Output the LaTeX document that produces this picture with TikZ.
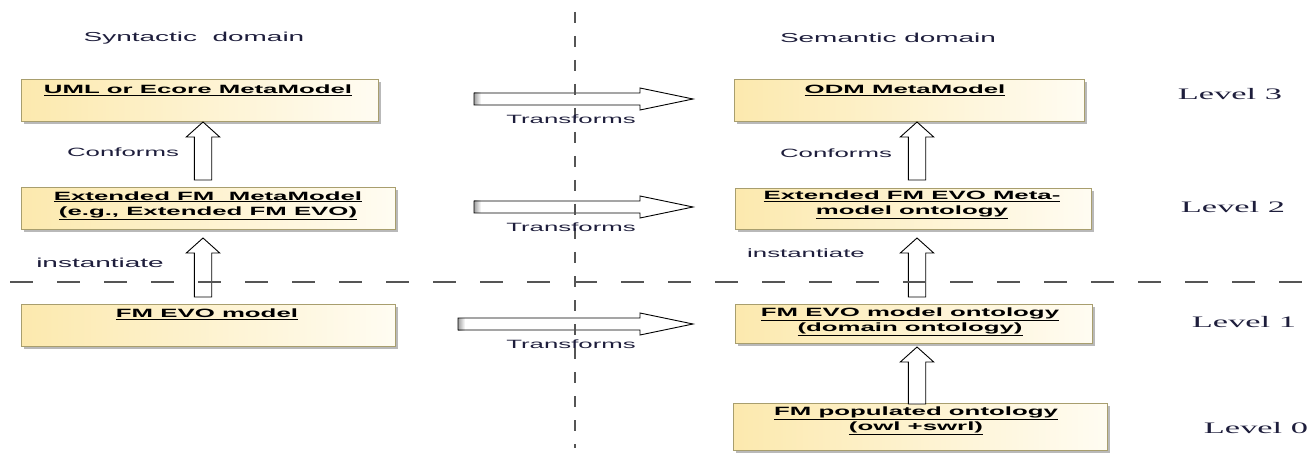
\documentclass[tikz,border=0pt]{standalone}
\usepackage{fontspec}
\usepackage{graphicx}
\setmainfont{Liberation Serif}
\setsansfont{Liberation Sans}
\usetikzlibrary{calc,shadows}
\definecolor{boxL}{HTML}{FCE9AE}
\definecolor{boxR}{HTML}{FFFCF2}
\definecolor{boxedge}{HTML}{A89E6E}
\definecolor{lbl}{HTML}{1E1E3C}
\definecolor{dashc}{HTML}{555555}
\newcommand{\sx}[1]{\scalebox{2.15}[1]{#1}}
\newcommand{\ux}[1]{\scalebox{2.15}[1]{\underline{#1}}}
\newcommand{\blkup}[2]{%
  \draw[blockarrow] let \p1=(#1), \p2=(#2) in
   (\x1-8.7pt,\y2) -- (\x1-8.7pt,\y1-15pt) -- (\x1-16.7pt,\y1-15pt) -- (\x1,\y1)
   -- (\x1+16.7pt,\y1-15pt) -- (\x1+8.7pt,\y1-15pt) -- (\x1+8.7pt,\y2) -- cycle;}
\newcommand{\blkright}[2]{%
  \fill[white] let \p1=(#1), \p2=(#2) in
   (\x1,\y1+6pt) -- (\x2-53pt,\y1+6pt) -- (\x2-53pt,\y1+11pt) -- (\x2,\y1)
   -- (\x2-53pt,\y1-11pt) -- (\x2-53pt,\y1-6pt) -- (\x1,\y1-6pt) -- cycle;
  \shade[left color=gray!75,right color=white] let \p1=(#1) in
   (\x1,\y1+6pt) rectangle (\x1+7pt,\y1-6pt);
  \draw[blockarrow,fill=none] let \p1=(#1), \p2=(#2) in
   (\x1,\y1+6pt) -- (\x2-53pt,\y1+6pt) -- (\x2-53pt,\y1+11pt) -- (\x2,\y1)
   -- (\x2-53pt,\y1-11pt) -- (\x2-53pt,\y1-6pt) -- (\x1,\y1-6pt) -- cycle;}
\tikzset{
  umlbox/.style={draw=boxedge, line width=0.9pt, left color=boxL, right color=boxR,
    drop shadow={shadow xshift=3pt, shadow yshift=-3pt, opacity=0.55, fill=gray},
    inner sep=0pt, anchor=north west},
  btxt/.style={font=\sffamily\bfseries\fontsize{12}{15}\selectfont, text=black,
    align=center, inner sep=0pt},
  ltxt/.style={font=\sffamily\fontsize{12}{14}\selectfont, text=lbl, inner sep=0pt},
  dtxt/.style={font=\sffamily\fontsize{13}{15}\selectfont, text=lbl, inner sep=0pt},
  lvtxt/.style={font=\rmfamily\fontsize{16}{18}\selectfont, text=lbl, inner sep=0pt},
  blockarrow/.style={draw=black, line width=0.9pt, fill=white, line join=miter},
  sepline/.style={draw=dashc, line width=1.5pt}
}
\begin{document}
\begin{tikzpicture}[x=1pt,y=-1pt]
\useasboundingbox (0,0) rectangle (1316,454);
% boxes
\node[umlbox, minimum width=357pt, minimum height=42pt] (bA) at (21,79) {};
\node[umlbox, minimum width=374pt, minimum height=42pt] (bB) at (21,187) {};
\node[umlbox, minimum width=374pt, minimum height=42pt] (bC) at (21,304) {};
\node[umlbox, minimum width=350pt, minimum height=42pt] (bD) at (734,79) {};
\node[umlbox, minimum width=356pt, minimum height=41pt] (bE) at (735,188) {};
\node[umlbox, minimum width=357pt, minimum height=39pt] (bF) at (735,304) {};
\node[umlbox, minimum width=374pt, minimum height=47pt] (bG) at (733,403) {};
% box texts
\node[btxt] (tA) at (198,90) {\ux{UML or Ecore MetaModel}};
\node[btxt] (tB) at (208,205.5) {\ux{Extended FM\ \ MetaModel}\\\ux{(e.g., Extended FM EVO)}};
\node[btxt] (tC) at (207,314) {\ux{FM EVO model}};
\node[btxt] (tD) at (905,90) {\ux{ODM MetaModel}};
\node[btxt] (tE) at (912,205) {\ux{Extended FM EVO Meta-}\\\ux{model ontology}};
\node[btxt] (tF) at (910,321.5) {\ux{FM EVO model ontology}\\\ux{(domain ontology)}};
\node[btxt] (tG) at (916,420.5) {\ux{FM populated ontology}\\\ux{(owl +swrl)}};
% vertical arrows
\coordinate (a1t) at (203,122); \coordinate (a1b) at (203,180);
\coordinate (a2t) at (203,238); \coordinate (a2b) at (203,297);
\coordinate (a3t) at (917,122); \coordinate (a3b) at (917,180);
\coordinate (a4t) at (917,238); \coordinate (a4b) at (917,297);
\coordinate (a5t) at (917,347); \coordinate (a5b) at (917,404);
\blkup{a1t}{a1b}
\blkup{a2t}{a2b}
\blkup{a3t}{a3b}
\blkup{a4t}{a4b}
\blkup{a5t}{a5b}
% horizontal arrows
\coordinate (h1s) at (474,99);  \coordinate (h1e) at (693,99);
\coordinate (h2s) at (474,207); \coordinate (h2e) at (693,207);
\coordinate (h3s) at (458,324); \coordinate (h3e) at (693,324);
\blkright{h1s}{h1e}
\blkright{h2s}{h2e}
\blkright{h3s}{h3e}
% separators
\coordinate (vsT) at (575,12); \coordinate (vsB) at (575,448);
\coordinate (hsL) at (10,282); \coordinate (hsR) at (1316,282);
\draw[sepline, dash pattern=on 11pt off 13pt] (vsT) -- (vsB);
\draw[sepline, dash pattern=on 23pt off 24pt] (hsL) -- (hsR);
% labels
\node[dtxt] (lSyn) at (194,38) {\sx{Syntactic\ \ domain}};
\node[dtxt] (lSem) at (888,38) {\sx{Semantic domain}};
\node[ltxt] (lConfL) at (123,152) {\sx{Conforms}};
\node[ltxt] (lConfR) at (836,153) {\sx{Conforms}};
\node[ltxt, font=\sffamily\fontsize{13}{15}\selectfont] (lInstL) at (100,263) {\sx{instantiate}};
\node[ltxt] (lInstR) at (806,253) {\sx{instantiate}};
\node[ltxt] (lTr1) at (571,119) {\sx{Transforms}};
\node[ltxt] (lTr2) at (571,227) {\sx{Transforms}};
\node[ltxt] (lTr3) at (571,344) {\sx{Transforms}};
\node[lvtxt] (lv3) at (1230,94) {\sx{Level 3}};
\node[lvtxt] (lv2) at (1233,207) {\sx{Level 2}};
\node[lvtxt] (lv1) at (1244,322) {\sx{Level 1}};
\node[lvtxt] (lv0) at (1256,428) {\sx{Level 0}};
\end{tikzpicture}
\end{document}
